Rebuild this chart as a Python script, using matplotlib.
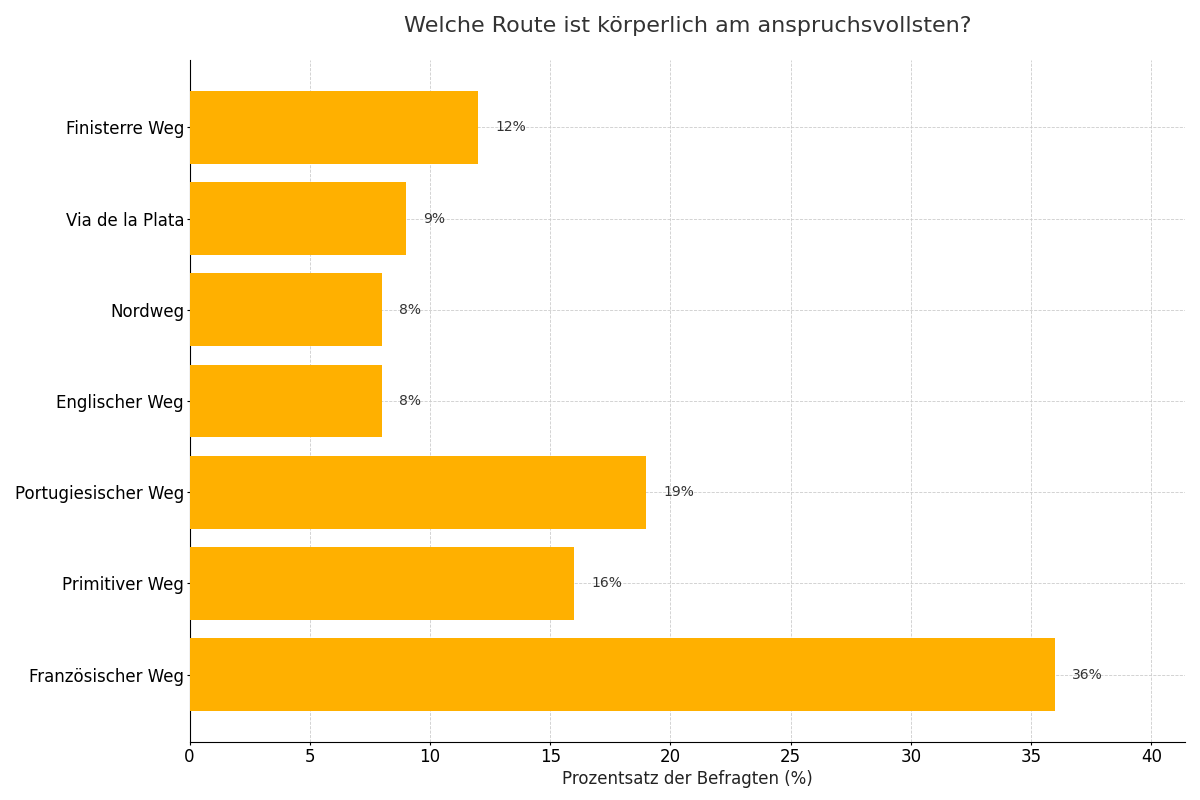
import matplotlib.pyplot as plt

# Survey data
routes = ["Französischer Weg", "Primitiver Weg", "Portugiesischer Weg", "Englischer Weg",
          "Nordweg", "Via de la Plata", "Finisterre Weg"]
percentages = [36, 16, 19, 8, 8, 9, 12]

fig, ax = plt.subplots(figsize=(12, 8), dpi=100)
fig.subplots_adjust(left=0.158, right=0.9875, top=0.925, bottom=0.0725)

bars = ax.barh(routes, percentages, color='#FFB000', height=0.8, zorder=3)

# Value labels next to each bar
for bar, value in zip(bars, percentages):
    ax.text(bar.get_width() + 0.7, bar.get_y() + bar.get_height() / 2,
            f'{value}%', va='center', ha='left', fontsize=10, color='#333333')

ax.set_xlim(0, max(percentages) * 1.15)
ax.set_xlabel('Prozentsatz der Befragten (%)', fontsize=12, color='#222222', labelpad=3)
ax.set_title('Welche Route ist körperlich am anspruchsvollsten?', fontsize=16,
             color='#333333', pad=20)
ax.tick_params(axis='both', labelsize=12, length=2, pad=2)
ax.grid(True, linestyle='--', linewidth=0.6, color='#cccccc', zorder=0)
ax.spines['top'].set_visible(False)
ax.spines['right'].set_visible(False)

plt.savefig('out.png')
plt.close()
